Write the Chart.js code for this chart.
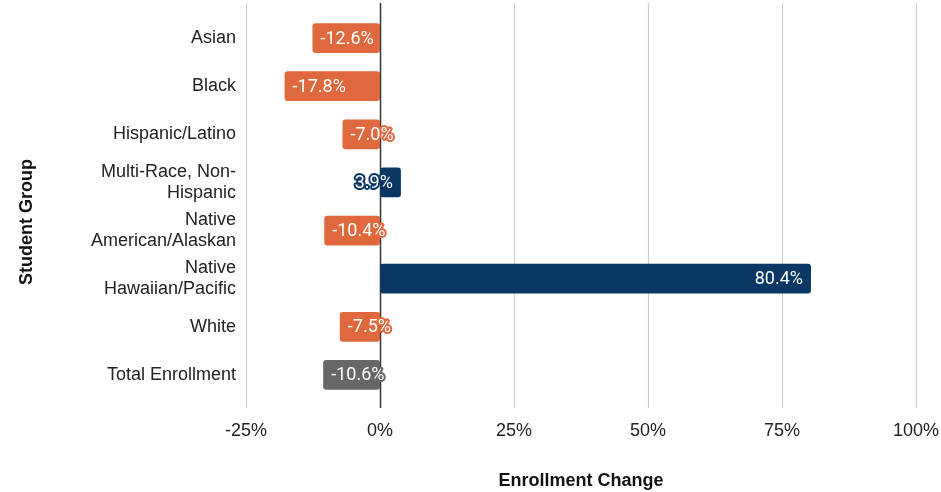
<!DOCTYPE html>
<html>
<head>
<meta charset="utf-8">
<script src="https://cdn.jsdelivr.net/npm/chart.js@4/dist/chart.umd.min.js"></script>
<style>
  html, body { margin: 0; padding: 0; background: #fff; }
</style>
</head>
<body>
<canvas id="enrollChart" width="941" height="492"></canvas>
<script>
// data
const groups = [
  ['Asian'],
  ['Black'],
  ['Hispanic/Latino'],
  ['Multi-Race, Non-', 'Hispanic'],
  ['Native', 'American/Alaskan'],
  ['Native', 'Hawaiian/Pacific'],
  ['White'],
  ['Total Enrollment']
];
const changes = [-12.6, -17.8, -7.0, 3.9, -10.4, 80.4, -7.5, -10.6];
const xTickValues = [-25, 0, 25, 50, 75, 100];

const ORANGE = '#df683e';
const NAVY = '#0a3764';
const GRAY = '#676767';
const barColors = changes.map((v, i) => (i === changes.length - 1 ? GRAY : v < 0 ? ORANGE : NAVY));

const axisFont = "'Liberation Sans', Arial, sans-serif";

// vertical gridlines, a bit taller than the plot area like the original
const gridLines = {
  id: 'gridLines',
  beforeDatasetsDraw(chart) {
    const { ctx, scales: { x } } = chart;
    ctx.save();
    const top = 3, bottom = 408;
    xTickValues.forEach((v) => {
      if (v === 0) return;
      const px = Math.round(x.getPixelForValue(v)) + 0.5;
      ctx.strokeStyle = '#cfcfcf';
      ctx.lineWidth = 1.2;
      ctx.beginPath();
      ctx.moveTo(px, top);
      ctx.lineTo(px, bottom);
      ctx.stroke();
    });
    const zx = Math.round(x.getPixelForValue(0)) + 0.5;
    ctx.strokeStyle = '#333';
    ctx.lineWidth = 1.5;
    ctx.beginPath();
    ctx.moveTo(zx, top);
    ctx.lineTo(zx, bottom);
    ctx.stroke();
    ctx.restore();
  }
};

// value labels inside the bar ends, outlined in the bar colour
const barLabels = {
  id: 'barLabels',
  afterDatasetsDraw(chart) {
    const { ctx } = chart;
    const meta = chart.getDatasetMeta(0);
    ctx.save();
    ctx.font = "18px Roboto, sans-serif";
    ctx.textBaseline = 'middle';
    ctx.lineJoin = 'round';
    meta.data.forEach((bar, i) => {
      const v = changes[i];
      const txt = v.toFixed(1) + '%';
      const neg = v < 0;
      ctx.textAlign = neg ? 'left' : 'right';
      const tx = neg ? bar.x + 8 : bar.x - 8;
      ctx.strokeStyle = barColors[i];
      ctx.lineWidth = 4;
      ctx.strokeText(txt, tx, bar.y + 1);
      ctx.fillStyle = '#fff';
      ctx.fillText(txt, tx, bar.y + 1);
    });
    ctx.restore();
  }
};

// rotated y-axis title
const yTitle = {
  id: 'yTitle',
  afterDraw(chart) {
    const { ctx } = chart;
    ctx.save();
    ctx.translate(27, 222);
    ctx.rotate(-Math.PI / 2);
    ctx.font = "bold 18px " + axisFont;
    ctx.fillStyle = '#111';
    ctx.textAlign = 'center';
    ctx.textBaseline = 'middle';
    ctx.fillText('Student Group', 0, 0);
    ctx.restore();
  }
};

new Chart(document.getElementById('enrollChart').getContext('2d'), {
  type: 'bar',
  data: {
    labels: groups,
    datasets: [
      {
        data: changes,
        backgroundColor: barColors,
        borderRadius: 3,
        borderSkipped: false,
        barPercentage: 0.62,
        categoryPercentage: 1
      }
    ]
  },
  options: {
    indexAxis: 'y',
    responsive: false,
    animation: false,
    layout: { padding: { top: 14, right: 25, left: 0, bottom: 0 } },
    plugins: { legend: { display: false }, tooltip: { enabled: false } },
    scales: {
      x: {
        min: -25,
        max: 100,
        afterBuildTicks: (scale) => {
          scale.ticks = xTickValues.map((v) => ({ value: v }));
        },
        afterFit: (scale) => {
          scale.height = 93;
          scale.paddingLeft = 0;
          scale.paddingRight = 0;
        },
        grid: { display: false, drawTicks: false },
        border: { display: false },
        ticks: {
          padding: 21,
          color: '#222',
          font: { family: axisFont, size: 18 },
          callback: (v) => v + '%'
        },
        title: {
          display: true,
          text: 'Enrollment Change',
          color: '#111',
          padding: { top: 0, bottom: 0 },
          font: { family: axisFont, size: 18, weight: 'bold' }
        }
      },
      y: {
        afterFit: (scale) => {
          scale.width = 246;
          scale.paddingTop = 0;
          scale.paddingBottom = 0;
        },
        grid: { display: false, drawTicks: false },
        border: { display: false },
        ticks: {
          padding: 10,
          color: '#222',
          font: { family: axisFont, size: 18 }
        }
      }
    }
  },
  plugins: [gridLines, barLabels, yTitle]
});
</script>
</body>
</html>
